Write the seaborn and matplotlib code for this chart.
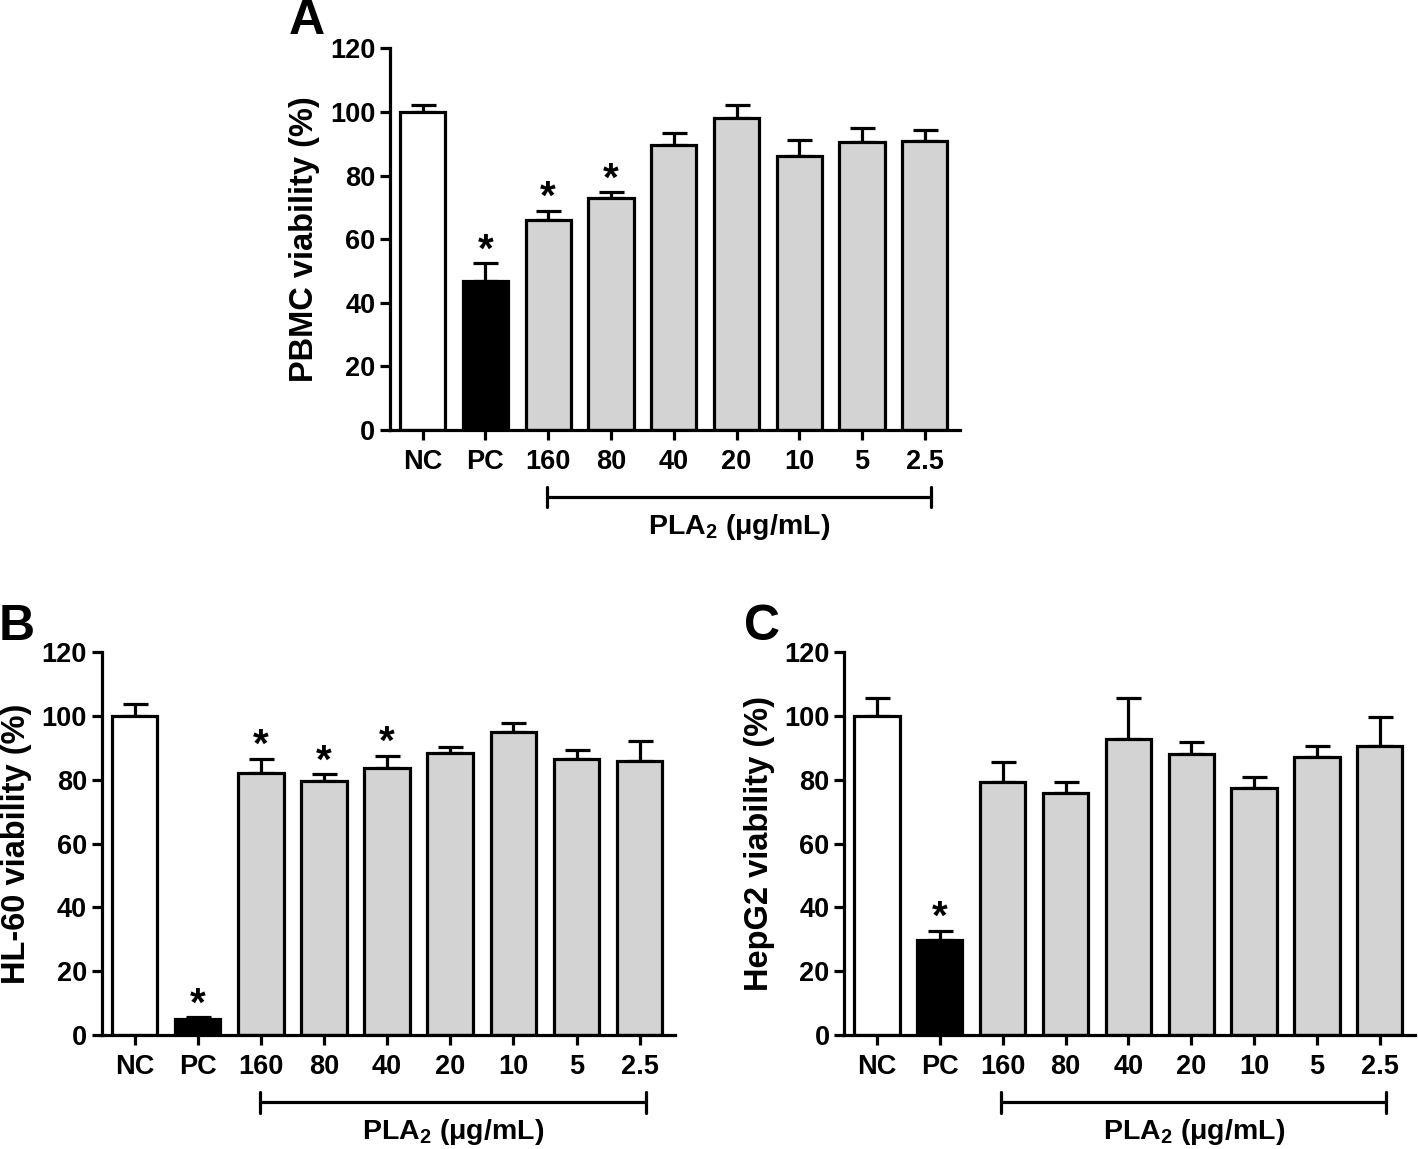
import matplotlib
matplotlib.use("Agg")
import matplotlib.pyplot as plt
import seaborn as sns
import pandas as pd
from matplotlib.transforms import blended_transform_factory

# ---------------- data ----------------
categories = ["NC", "PC", "160", "80", "40", "20", "10", "5", "2.5"]

pbmc_mean = [100, 46.9, 65.9, 72.9, 89.6, 98.2, 86.1, 90.5, 90.9]
pbmc_err = [2.3, 5.5, 2.9, 1.8, 3.8, 4.1, 5.1, 4.4, 3.3]
pbmc_sig = [0, 1, 1, 1, 0, 0, 0, 0, 0]

hl60_mean = [100, 5.0, 82.1, 79.6, 83.7, 88.5, 94.9, 86.5, 85.9]
hl60_err = [3.7, 0.5, 4.5, 2.1, 3.9, 1.9, 2.8, 2.9, 6.2]
hl60_sig = [0, 1, 1, 1, 1, 0, 0, 0, 0]

hepg2_mean = [100, 29.7, 79.3, 75.8, 92.8, 88.0, 77.5, 87.3, 90.6]
hepg2_err = [5.8, 3.0, 6.3, 3.6, 13.0, 4.0, 3.5, 3.2, 9.1]
hepg2_sig = [0, 1, 0, 0, 0, 0, 0, 0, 0]

bar_colors = ["white", "black"] + ["#d3d3d3"] * 7
yticks = [0, 20, 40, 60, 80, 100, 120]

# ---------------- style ----------------
sns.set_theme(style="ticks")
plt.rcParams["font.family"] = ["Liberation Sans", "DejaVu Sans"]
plt.rcParams["font.weight"] = "bold"
plt.rcParams["axes.labelweight"] = "bold"
plt.rcParams["text.color"] = "black"
plt.rcParams["axes.labelcolor"] = "black"
plt.rcParams["xtick.color"] = "black"
plt.rcParams["ytick.color"] = "black"
plt.rcParams["xtick.labelcolor"] = "black"
plt.rcParams["ytick.labelcolor"] = "black"
plt.rcParams["mathtext.fontset"] = "custom"
plt.rcParams["mathtext.rm"] = "Liberation Sans:bold"
plt.rcParams["mathtext.it"] = "Liberation Sans:bold"
plt.rcParams["mathtext.bf"] = "Liberation Sans:bold"

LW = 2.3

W, H = 1418, 1149
fig = plt.figure(figsize=(W / 100, H / 100), dpi=100)


def box(x0, x1, y0, y1):
    return [x0 / W, 1 - y1 / H, (x1 - x0) / W, (y1 - y0) / H]


axA = fig.add_axes(box(390, 960, 48.3, 430))
axB = fig.add_axes(box(101.7, 675, 652.3, 1035))
axC = fig.add_axes(box(844.3, 1415, 652.3, 1035))


def panel(ax, means, errs, sig, ylabel):
    df = pd.DataFrame({"group": categories, "value": means})
    pal = dict(zip(categories, bar_colors))
    sns.barplot(data=df, x="group", y="value", hue="group", order=categories,
                hue_order=categories, palette=pal, width=0.72, saturation=1,
                edgecolor="black", linewidth=LW, errorbar=None, legend=False,
                ax=ax, zorder=2)
    xs = list(range(len(categories)))
    ax.errorbar(xs, means, yerr=[[0] * len(errs), errs], fmt="none",
                ecolor="black", elinewidth=LW, capsize=9, capthick=LW, zorder=1)
    for x, m, e, s in zip(xs, means, errs, sig):
        if s:
            ax.text(x, m + e + 0.6, "*", ha="center", va="baseline",
                    fontsize=29, fontweight="bold", color="black")
    ax.set_xlim(-0.52, 8.56)
    ax.set_ylim(0, 120)
    ax.set_yticks(yticks)
    ax.set_xlabel("")
    ax.set_ylabel(ylabel, fontsize=23.5, fontweight="bold", labelpad=7,
                  color="black")
    sns.despine(ax=ax)
    for sp in ("left", "bottom"):
        ax.spines[sp].set_linewidth(LW)
        ax.spines[sp].set_color("black")
    ax.tick_params(axis="both", direction="out", length=7.5, width=LW,
                   colors="black", labelsize=19.5)
    ax.tick_params(axis="x", pad=6)
    ax.tick_params(axis="y", pad=3)
    for lab in ax.get_xticklabels() + ax.get_yticklabels():
        lab.set_fontweight("bold")
        lab.set_color("black")
    ax.set_facecolor("white")

    # bracket for PLA2 concentrations
    tr = blended_transform_factory(ax.transData, ax.transAxes)
    yb = -0.176
    ax.plot([1.98, 8.1], [yb, yb], color="black", lw=LW, transform=tr,
            clip_on=False)
    for xe in (1.98, 8.1):
        ax.plot([xe, xe], [yb - 0.027, yb + 0.027], color="black", lw=LW,
                transform=tr, clip_on=False)
    ax.text((1.98 + 8.1) / 2, -0.254, "PLA$_2$ (\u03bcg/mL)", transform=tr,
            ha="center", va="center", fontsize=20.5, fontweight="bold",
            color="black")


panel(axA, pbmc_mean, pbmc_err, pbmc_sig, "PBMC viability (%)")
panel(axB, hl60_mean, hl60_err, hl60_sig, "HL-60 viability (%)")
panel(axC, hepg2_mean, hepg2_err, hepg2_sig, "HepG2 viability (%)")

fig.text(307 / W, 1 - 21 / H, "A", fontsize=36, fontweight="bold",
         ha="center", va="center", color="black")
fig.text(17 / W, 1 - 627 / H, "B", fontsize=36, fontweight="bold",
         ha="center", va="center", color="black")
fig.text(762 / W, 1 - 627 / H, "C", fontsize=36, fontweight="bold",
         ha="center", va="center", color="black")

fig.savefig("out.png", dpi=100, facecolor="white")
